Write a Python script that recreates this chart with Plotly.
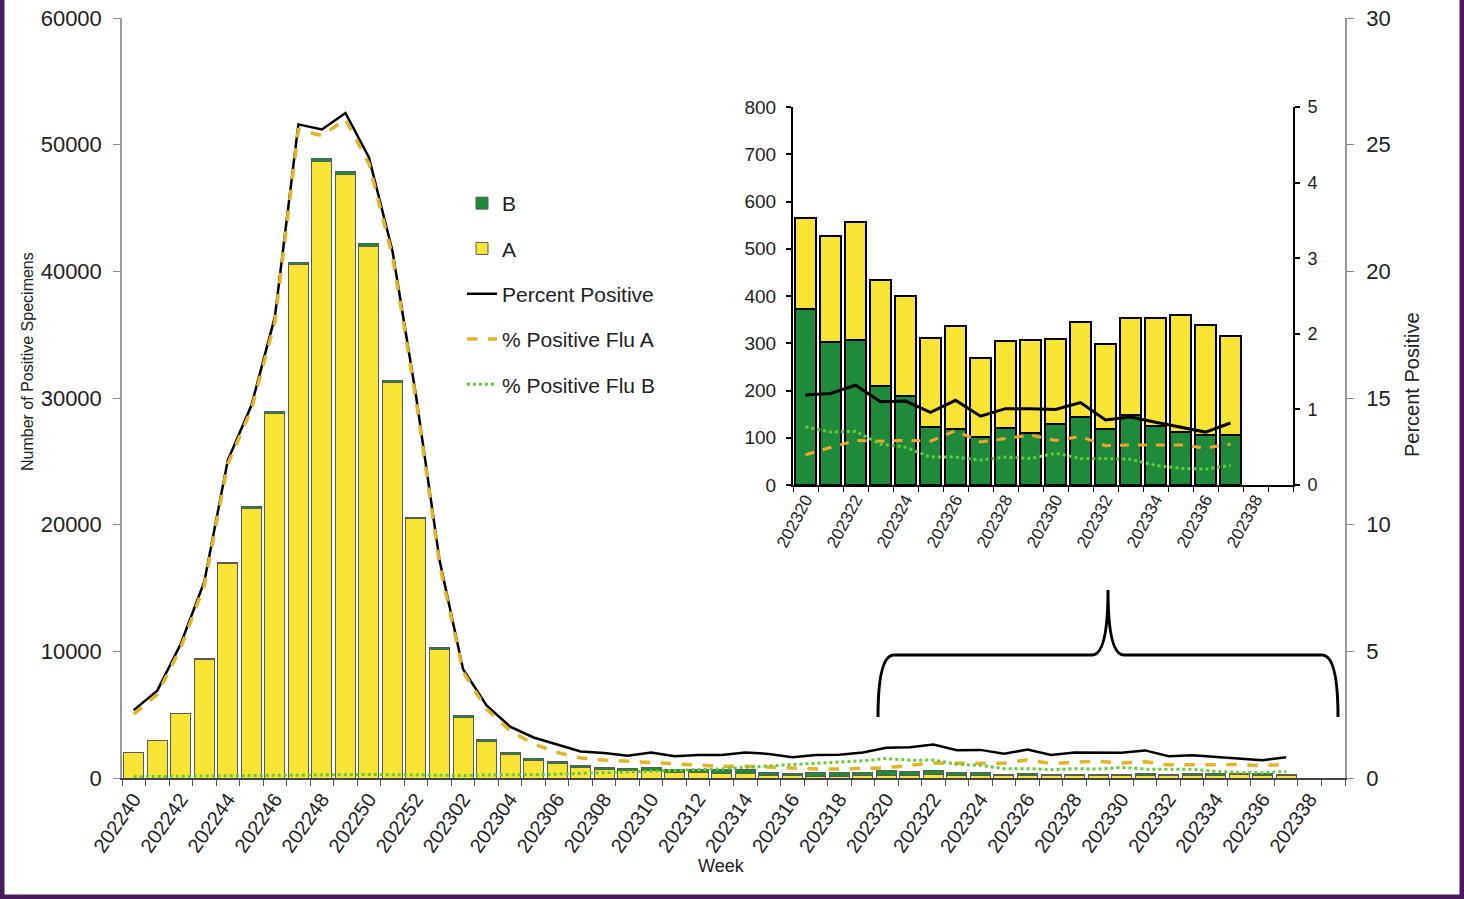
import plotly.graph_objects as go

# ---------------- data ----------------
weeks = (["2022%02d" % w for w in range(40, 53)] +
         ["2023%02d" % w for w in range(1, 40)])          # 52 categories (202240..202339)

flu_a = [1985, 2980, 5100, 9350, 16920, 21300, 28770, 40520, 48680, 47660,
         41970, 31210, 20460, 10180, 4790, 2900, 1870, 1370, 1120, 800,
         665, 570, 566, 449, 406, 363, 338, 227, 165, 158,
         154, 160,
         192, 225, 249, 223, 210, 189, 218, 167, 183, 197,
         179, 201, 179, 205, 230, 248, 234, 211]
flu_b = [15, 20, 30, 50, 80, 100, 130, 180, 220, 240,
         230, 190, 140, 120, 112, 128, 118, 132, 167, 180,
         185, 190, 254, 231, 264, 277, 302, 243, 215, 242,
         246, 250,
         373, 303, 307, 210, 189, 123, 118, 102, 121, 110,
         130, 144, 119, 149, 124, 112, 105, 105]
pct_pos = [2.68, 3.45, 5.3, 7.75, 12.55, 14.7, 18.2, 25.8, 25.6, 26.25,
           24.5, 20.8, 15.1, 8.6, 4.3, 2.86, 2.03, 1.6, 1.32, 1.05,
           0.99, 0.88, 1.01, 0.86, 0.91, 0.91, 1.01, 0.95, 0.82, 0.91,
           0.92, 1.01,
           1.19, 1.21, 1.32, 1.10, 1.11, 0.96, 1.12, 0.91, 1.01, 1.01,
           1.00, 1.09, 0.86, 0.90, 0.83, 0.77, 0.70, 0.82]
pct_a = [2.52, 3.3, 5.15, 7.6, 12.4, 14.55, 18.0, 25.6, 25.35, 26.0,
         24.25, 20.6, 14.95, 8.45, 4.2, 2.72, 1.87, 1.34, 1.01, 0.79,
         0.71, 0.66, 0.58, 0.53, 0.49, 0.46, 0.46, 0.42, 0.39, 0.36,
         0.36, 0.39,
         0.40, 0.50, 0.59, 0.58, 0.59, 0.58, 0.72, 0.57, 0.62, 0.66,
         0.59, 0.64, 0.52, 0.53, 0.53, 0.53, 0.49, 0.54]
pct_b = [0.05, 0.06, 0.07, 0.08, 0.10, 0.10, 0.12, 0.13, 0.13, 0.14,
         0.14, 0.13, 0.12, 0.11, 0.10, 0.12, 0.12, 0.13, 0.15, 0.18,
         0.20, 0.22, 0.26, 0.29, 0.32, 0.36, 0.42, 0.49, 0.53, 0.58,
         0.62, 0.68,
         0.77, 0.70, 0.71, 0.54, 0.50, 0.37, 0.37, 0.33, 0.37, 0.35,
         0.42, 0.35, 0.35, 0.34, 0.26, 0.22, 0.21, 0.26]

inset_start = weeks.index("202320")
inset_weeks = weeks[inset_start:]                       # 202320..202339

# ---------------- styling ----------------
YELLOW = "#F8E434"
GREEN = "#1F8A3A"
ORANGE_MAIN = "#E3B42A"
ORANGE_IN = "#F0A52C"
LGREEN = "#66C93A"
FONT = "Liberation Sans, Arial, sans-serif"
TXT = "#222222"

W, H = 1464, 899
L, R, T, B = 122, 119, 18, 121
PW, PH = W - L - R, H - T - B


def px(xp):
    return (xp - L) / PW


def py(yp):
    return (H - B - yp) / PH


n_main = len(flu_a)
x_main = list(range(n_main))
n_in = len(flu_a) - inset_start
x_in = list(range(n_in))
ia = flu_a[inset_start:]
ib = flu_b[inset_start:]

fig = go.Figure()

# main bars: A bottom, B top
fig.add_trace(go.Bar(x=x_main, y=flu_a, name="A", marker=dict(color=YELLOW, line=dict(color="#5a5a5a", width=1)),
                     xaxis="x", yaxis="y", legendgroup="A", legendrank=2))
fig.add_trace(go.Bar(x=x_main, y=flu_b, name="B", marker=dict(color=GREEN, line=dict(color="#5a5a5a", width=1)),
                     xaxis="x", yaxis="y", legendgroup="B", legendrank=1))
# main lines
fig.add_trace(go.Scatter(x=x_main, y=pct_pos, name="Percent Positive", mode="lines",
                         line=dict(color="black", width=2.5), xaxis="x", yaxis="y2",
                         legendgroup="pp", legendrank=3))
fig.add_trace(go.Scatter(x=x_main, y=pct_a, name="% Positive Flu A", mode="lines",
                         line=dict(color=ORANGE_MAIN, width=3.5, dash="dash"), xaxis="x", yaxis="y2",
                         legendgroup="fa", legendrank=4))
fig.add_trace(go.Scatter(x=x_main, y=pct_b, name="% Positive Flu B", mode="lines",
                         line=dict(color=LGREEN, width=3, dash="dot"), xaxis="x", yaxis="y2",
                         legendgroup="fb", legendrank=5))

# inset bars: B bottom, A top
fig.add_trace(go.Bar(x=x_in, y=ib, name="B", marker=dict(color=GREEN, line=dict(color="black", width=2)),
                     xaxis="x2", yaxis="y3", showlegend=False))
fig.add_trace(go.Bar(x=x_in, y=ia, name="A", marker=dict(color=YELLOW, line=dict(color="black", width=2)),
                     xaxis="x2", yaxis="y3", showlegend=False))
fig.add_trace(go.Scatter(x=x_in, y=pct_pos[inset_start:], mode="lines", showlegend=False,
                         line=dict(color="black", width=3), xaxis="x2", yaxis="y4"))
fig.add_trace(go.Scatter(x=x_in, y=pct_a[inset_start:], mode="lines", showlegend=False,
                         line=dict(color=ORANGE_IN, width=3, dash="dash"), xaxis="x2", yaxis="y4"))
fig.add_trace(go.Scatter(x=x_in, y=pct_b[inset_start:], mode="lines", showlegend=False,
                         line=dict(color=LGREEN, width=3, dash="dot"), xaxis="x2", yaxis="y4"))

main_tickvals = list(range(0, len(weeks), 2))
main_ticktext = [weeks[i] for i in main_tickvals]
in_tickvals = list(range(0, len(inset_weeks), 2))
in_ticktext = [inset_weeks[i] for i in in_tickvals]

inset_dom_x = [px(793), px(1293)]
inset_dom_y = [py(485), py(107)]

fig.update_layout(
    width=W, height=H,
    margin=dict(l=L, r=R, t=T, b=B, autoexpand=False),
    paper_bgcolor="white", plot_bgcolor="white",
    barmode="stack", bargap=0.15,
    font=dict(family=FONT, color=TXT, size=18),
    showlegend=True,
    legend=dict(x=px(462), y=py(183), xanchor="left", yanchor="top",
                font=dict(size=21, family=FONT, color=TXT),
                tracegroupgap=15, itemwidth=30, bgcolor="rgba(0,0,0,0)",
                traceorder="grouped"),
    xaxis=dict(domain=[0, 1], anchor="y", range=[-0.5, len(weeks) - 0.5],
               tickmode="array", tickvals=main_tickvals, ticktext=main_ticktext,
               tickangle=-55, ticks="", ticklabelstandoff=0,
               tickfont=dict(size=20, color=TXT),
               minor=dict(tick0=-0.5, dtick=1, ticks="outside", ticklen=6, tickcolor="#555", showgrid=False),
               showline=True, linecolor="#444", linewidth=1.5, showgrid=False, zeroline=False),
    yaxis=dict(domain=[0, 1], anchor="x", range=[0, 60000], dtick=10000, tickformat="d",
               ticks="outside", ticklen=7, tickcolor="#888", showline=True, linecolor="#999", linewidth=1.5,
               ticklabelstandoff=7,
               showgrid=False, zeroline=False, tickfont=dict(size=22, color=TXT)),
    yaxis2=dict(overlaying="y", side="right", anchor="x", range=[0, 30], dtick=5,
                ticks="outside", ticklen=7, tickcolor="#888", showline=True, linecolor="#999", linewidth=1.5,
                ticklabelstandoff=8,
                showgrid=False, zeroline=False, tickfont=dict(size=22, color=TXT)),
    xaxis2=dict(domain=inset_dom_x, anchor="y3", range=[-0.5, len(inset_weeks) - 0.5],
                tickmode="array", tickvals=in_tickvals, ticktext=in_ticktext,
                tickangle=-62, ticks="", ticklabelstandoff=-4,
                tickfont=dict(size=17, color=TXT),
                minor=dict(tick0=-0.5, dtick=1, ticks="outside", ticklen=5, tickcolor="black", showgrid=False),
                showline=True, linecolor="black", linewidth=2, showgrid=False, zeroline=False),
    yaxis3=dict(domain=inset_dom_y, anchor="x2", range=[0, 800], dtick=100,
                ticks="outside", ticklen=5, tickcolor="black", tickwidth=2,
                showline=True, linecolor="black", linewidth=2, ticklabelstandoff=6,
                showgrid=False, zeroline=False, tickfont=dict(size=19, color=TXT)),
    yaxis4=dict(overlaying="y3", side="right", anchor="x2", range=[0, 5], dtick=1,
                ticks="outside", ticklen=5, tickcolor="black", tickwidth=2,
                showline=True, linecolor="black", linewidth=2, ticklabelstandoff=4,
                showgrid=False, zeroline=False, tickfont=dict(size=18, color=TXT)),
)

# axis titles as annotations
fig.add_annotation(text="Number of Positive Specimens", x=px(27), y=py(362), xref="paper", yref="paper",
                   xanchor="center", yanchor="middle",
                   textangle=-90, showarrow=False, font=dict(size=16, color=TXT))
fig.add_annotation(text="Percent Positive", x=px(1412), y=py(384), xref="paper", yref="paper",
                   xanchor="center", yanchor="middle",
                   textangle=-90, showarrow=False, font=dict(size=20, color=TXT))
fig.add_annotation(text="Week", x=px(721), y=py(866), xref="paper", yref="paper",
                   xanchor="center", yanchor="middle",
                   showarrow=False, font=dict(size=18, color=TXT))

# curly brace
def P(a, b):
    return "%.5f,%.5f" % (px(a), py(b))

brace = ("M " + P(878, 717) + " Q " + P(878, 655) + " " + P(894, 655) +
         " L " + P(1092, 655) + " Q " + P(1108, 655) + " " + P(1108, 590) +
         " Q " + P(1108, 655) + " " + P(1124, 655) + " L " + P(1322, 655) +
         " Q " + P(1338, 655) + " " + P(1338, 717))
fig.add_shape(type="path", path=brace, xref="paper", yref="paper",
              line=dict(color="black", width=3))

# purple frame
PURP = "#4A1B5C"
fig.add_shape(type="line", xref="paper", yref="paper", x0=px(2), x1=px(2), y0=py(-5), y1=py(H + 5),
              line=dict(color=PURP, width=5))
fig.add_shape(type="line", xref="paper", yref="paper", x0=px(W - 2), x1=px(W - 2), y0=py(-5), y1=py(H + 5),
              line=dict(color=PURP, width=5))
fig.add_shape(type="line", xref="paper", yref="paper", x0=px(-5), x1=px(W + 5), y0=py(H - 2), y1=py(H - 2),
              line=dict(color=PURP, width=5))

fig.write_html("out.html", config={"displayModeBar": False},
               post_script="document.body.style.margin='0';document.body.style.overflow='hidden';")
